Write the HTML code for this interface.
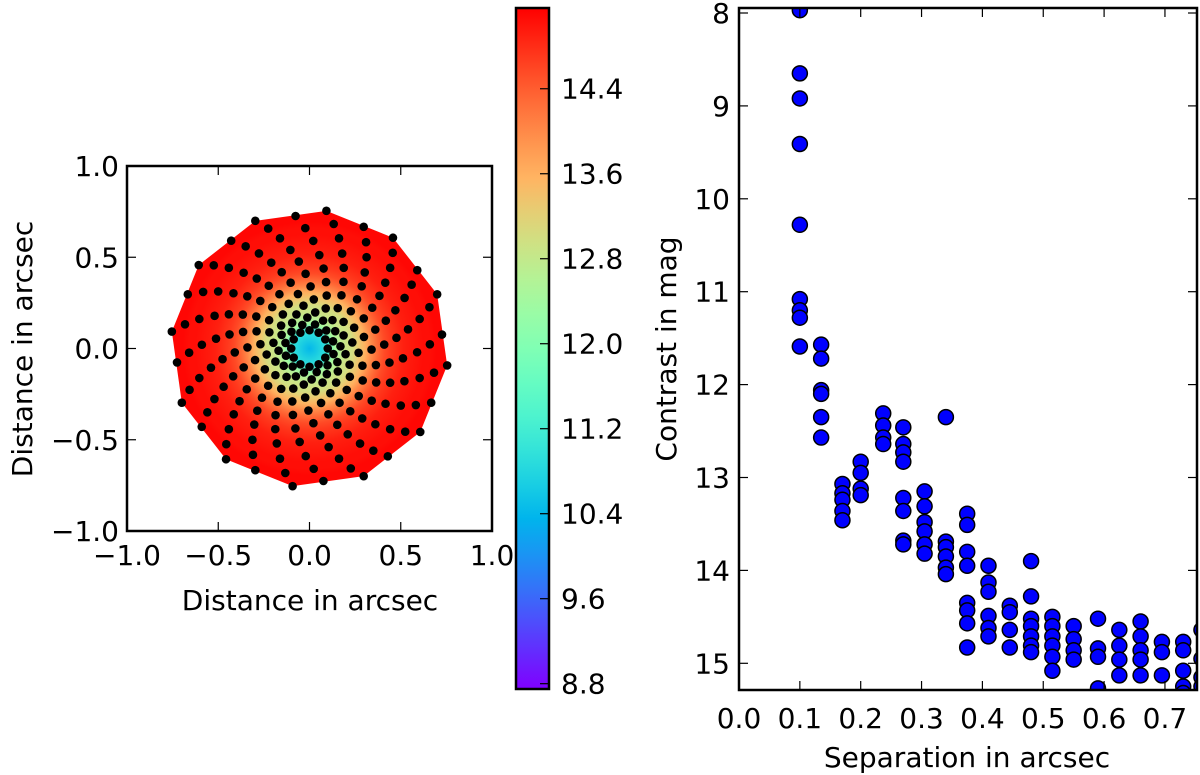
<!DOCTYPE html>
<html><head><meta charset="utf-8"><style>
html,body{margin:0;padding:0;background:#fff;}
svg{display:block;font-family:"DejaVu Sans","Liberation Sans",sans-serif;}
</style></head><body>
<svg id="fig" width="1200" height="775" viewBox="0 0 1200 775" xmlns="http://www.w3.org/2000/svg"></svg>
<script>
// ---- data ----
const separations = [0.1,0.135,0.17,0.2,0.237,0.27,0.305,0.34,0.375,0.41,0.445,0.48,0.515,0.55,0.59,0.625,0.66,0.695,0.73,0.76];
const contrasts = [
 [7.97,8.65,8.92,9.41,10.28,11.08,11.2,11.28,11.59],
 [11.57,11.72,12.06,12.1,12.35,12.57],
 [13.07,13.17,13.24,13.36,13.46],
 [12.83,12.95,13.12,13.19],
 [12.31,12.44,12.57,12.64],
 [12.46,12.64,12.73,12.83,13.22,13.36,13.68,13.72],
 [13.15,13.31,13.48,13.58,13.72,13.82],
 [12.35,13.69,13.75,13.85,13.97,14.04],
 [13.39,13.51,13.8,13.95,14.35,14.43,14.57,14.83],
 [13.95,14.13,14.23,14.49,14.62,14.71],
 [14.38,14.45,14.64,14.83],
 [13.9,14.28,14.52,14.6,14.71,14.81,14.88],
 [14.5,14.6,14.71,14.81,14.93,15.08],
 [14.6,14.74,14.86,14.96],
 [14.52,14.84,14.93,15.27],
 [14.64,14.81,14.96,15.13],
 [14.55,14.71,14.86,14.96,15.13],
 [14.77,14.88,15.13],
 [14.77,14.86,15.08,15.25,15.32],
 [14.64,14.95,15.15,15.25]
];
const ringMeans = [11.0,12.4,12.7,12.9,13.0,13.3,13.6,14.0,14.3,14.55,14.7,14.8,14.9,14.95,15.0,15.05,15.05,15.1,15.1,15.1];
const pointsPerRing = 12;
const ringRotationDeg = 17;
const leftXTicks = [-1.0,-0.5,0.0,0.5,1.0];
const leftYTicks = [-1.0,-0.5,0.0,0.5,1.0];
const cbTicks = [8.8,9.6,10.4,11.2,12.0,12.8,13.6,14.4];
const rightXTicks = [0.0,0.1,0.2,0.3,0.4,0.5,0.6,0.7];
const rightYTicks = [8,9,10,11,12,13,14,15];
const cbMin = 8.75, cbMax = 15.16;

const FS = 28;
const NS="http://www.w3.org/2000/svg";
const svg=document.getElementById('fig');
function mk(tag,attrs,parent){const e=document.createElementNS(NS,tag);for(const k in attrs)e.setAttribute(k,attrs[k]);(parent||svg).appendChild(e);return e;}
function txt(s,x,y,anchor,parent,extra){const t=mk('text',Object.assign({x:x,y:y,'text-anchor':anchor,'font-size':FS,fill:'#000'},extra||{}),parent);t.textContent=s;return t;}
function rainbow(v){let x=(v-cbMin)/(cbMax-cbMin);x=Math.max(0,Math.min(1,x));
 const r=Math.min(1,Math.abs(2*x-0.5)),g=Math.sin(Math.PI*x),b=Math.cos(Math.PI*x/2);
 return 'rgb('+Math.round(r*255)+','+Math.round(g*255)+','+Math.round(Math.max(0,b)*255)+')';}
const fmt=v=>(v<0?'\u2212':'')+Math.abs(v).toFixed(1);

// ---- left map axes ----
const L={x0:127,x1:492,y0:166,y1:531};
const lx=v=>L.x0+(v+1)/2*(L.x1-L.x0);
const ly=v=>L.y1-(v+1)/2*(L.y1-L.y0);
const gL=mk('g',{});


const defs=mk('defs',{});
const grad=mk('radialGradient',{id:'rg',cx:lx(0),cy:ly(0),r:lx(0.78)-lx(0),gradientUnits:'userSpaceOnUse'},defs);
mk('stop',{offset:0,'stop-color':rainbow(10.4)},grad);
separations.forEach((s,i)=>{mk('stop',{offset:(s/0.78).toFixed(3),'stop-color':rainbow(ringMeans[i])},grad);});
mk('stop',{offset:1,'stop-color':rainbow(ringMeans[ringMeans.length-1])},grad);
const outer=separations.length-1;
let hull=[];
for(let k=0;k<pointsPerRing;k++){const a=(k*360/pointsPerRing+outer*ringRotationDeg+90)*Math.PI/180;
 hull.push(lx(separations[outer]*Math.cos(a))+','+ly(separations[outer]*Math.sin(a)));}
const hp=mk('polygon',{points:hull.join(' '),fill:'url(#rg)'},gL);


separations.forEach((s,i)=>{for(let k=0;k<pointsPerRing;k++){const a=(k*360/pointsPerRing+i*ringRotationDeg+90)*Math.PI/180;
 const c=mk('circle',{cx:lx(s*Math.cos(a)),cy:ly(s*Math.sin(a)),r:4.3,fill:'#000'},gL);
 
 }});
mk('rect',{x:L.x0,y:L.y0,width:L.x1-L.x0,height:L.y1-L.y0,fill:'none',stroke:'#000','stroke-width':2.5});
leftXTicks.forEach(v=>{const x=lx(v);mk('line',{x1:x,x2:x,y1:L.y1,y2:L.y1-9,stroke:'#000','stroke-width':1.2});mk('line',{x1:x,x2:x,y1:L.y0,y2:L.y0+9,stroke:'#000','stroke-width':1.2});
 const t=txt(fmt(v),x,565,'middle');});
leftYTicks.forEach(v=>{const y=ly(v);mk('line',{x1:L.x0,x2:L.x0+9,y1:y,y2:y,stroke:'#000','stroke-width':1.2});mk('line',{x1:L.x1,x2:L.x1-9,y1:y,y2:y,stroke:'#000','stroke-width':1.2});
 const t=txt(fmt(v),119,y+10,'end');});
const lxl=txt('Distance in arcsec',310,610,'middle');
const lyl=txt('Distance in arcsec',0,0,'middle',null,{transform:'translate(32,349) rotate(-90)'});

// ---- colorbar ----
const C={x0:516,x1:549,y0:8,y1:689};
const cy=v=>C.y1-(v-cbMin)/(cbMax-cbMin)*(C.y1-C.y0);
const cg=mk('linearGradient',{id:'cbg',x1:0,y1:1,x2:0,y2:0},defs);
for(let i=0;i<=20;i++){const v=cbMin+(cbMax-cbMin)*i/20;mk('stop',{offset:i/20,'stop-color':rainbow(v)},cg);}
const cb=mk('rect',{x:C.x0,y:C.y0,width:C.x1-C.x0,height:C.y1-C.y0,fill:'url(#cbg)',stroke:'#000','stroke-width':2.5});

cbTicks.forEach(v=>{const y=cy(v);mk('line',{x1:C.x1-9,x2:C.x1,y1:y,y2:y,stroke:'#000','stroke-width':1.2});
 const t=txt(v.toFixed(1),561,y+10,'start');});

// ---- right scatter ----
const R={x0:739,x1:1197,y0:8,y1:690};
const rx=v=>R.x0+v*608.5;
const ry=v=>13+(v-8)*92.9;
const gR=mk('g',{});


const clip=mk('clipPath',{id:'rc'},defs);mk('rect',{x:R.x0,y:R.y0,width:R.x1-R.x0,height:R.y1-R.y0},clip);
gR.setAttribute('clip-path','url(#rc)');
separations.forEach((s,i)=>{contrasts[i].forEach(c=>{
 const m=mk('circle',{cx:rx(s),cy:ry(c),r:7.5,fill:'#0000ff',stroke:'#000','stroke-width':1.5},gR);
 
 });});
mk('rect',{x:R.x0,y:R.y0,width:R.x1-R.x0,height:R.y1-R.y0,fill:'none',stroke:'#000','stroke-width':2.5});
rightXTicks.forEach(v=>{const x=rx(v);mk('line',{x1:x,x2:x,y1:R.y1,y2:R.y1-9,stroke:'#000','stroke-width':1.2});mk('line',{x1:x,x2:x,y1:R.y0,y2:R.y0+9,stroke:'#000','stroke-width':1.2});
 const t=txt(v.toFixed(1),x,728,'middle');});
rightYTicks.forEach(v=>{const y=ry(v);mk('line',{x1:R.x0,x2:R.x0+9,y1:y,y2:y,stroke:'#000','stroke-width':1.2});mk('line',{x1:R.x1,x2:R.x1-9,y1:y,y2:y,stroke:'#000','stroke-width':1.2});
 const t=txt(String(v),730,Math.max(y+10,22),'end');});
const rxl=txt('Separation in arcsec',967,767,'middle');
const ryl=txt('Contrast in mag',0,0,'middle',null,{transform:'translate(676,349) rotate(-90)'});
</script>
</body></html>
